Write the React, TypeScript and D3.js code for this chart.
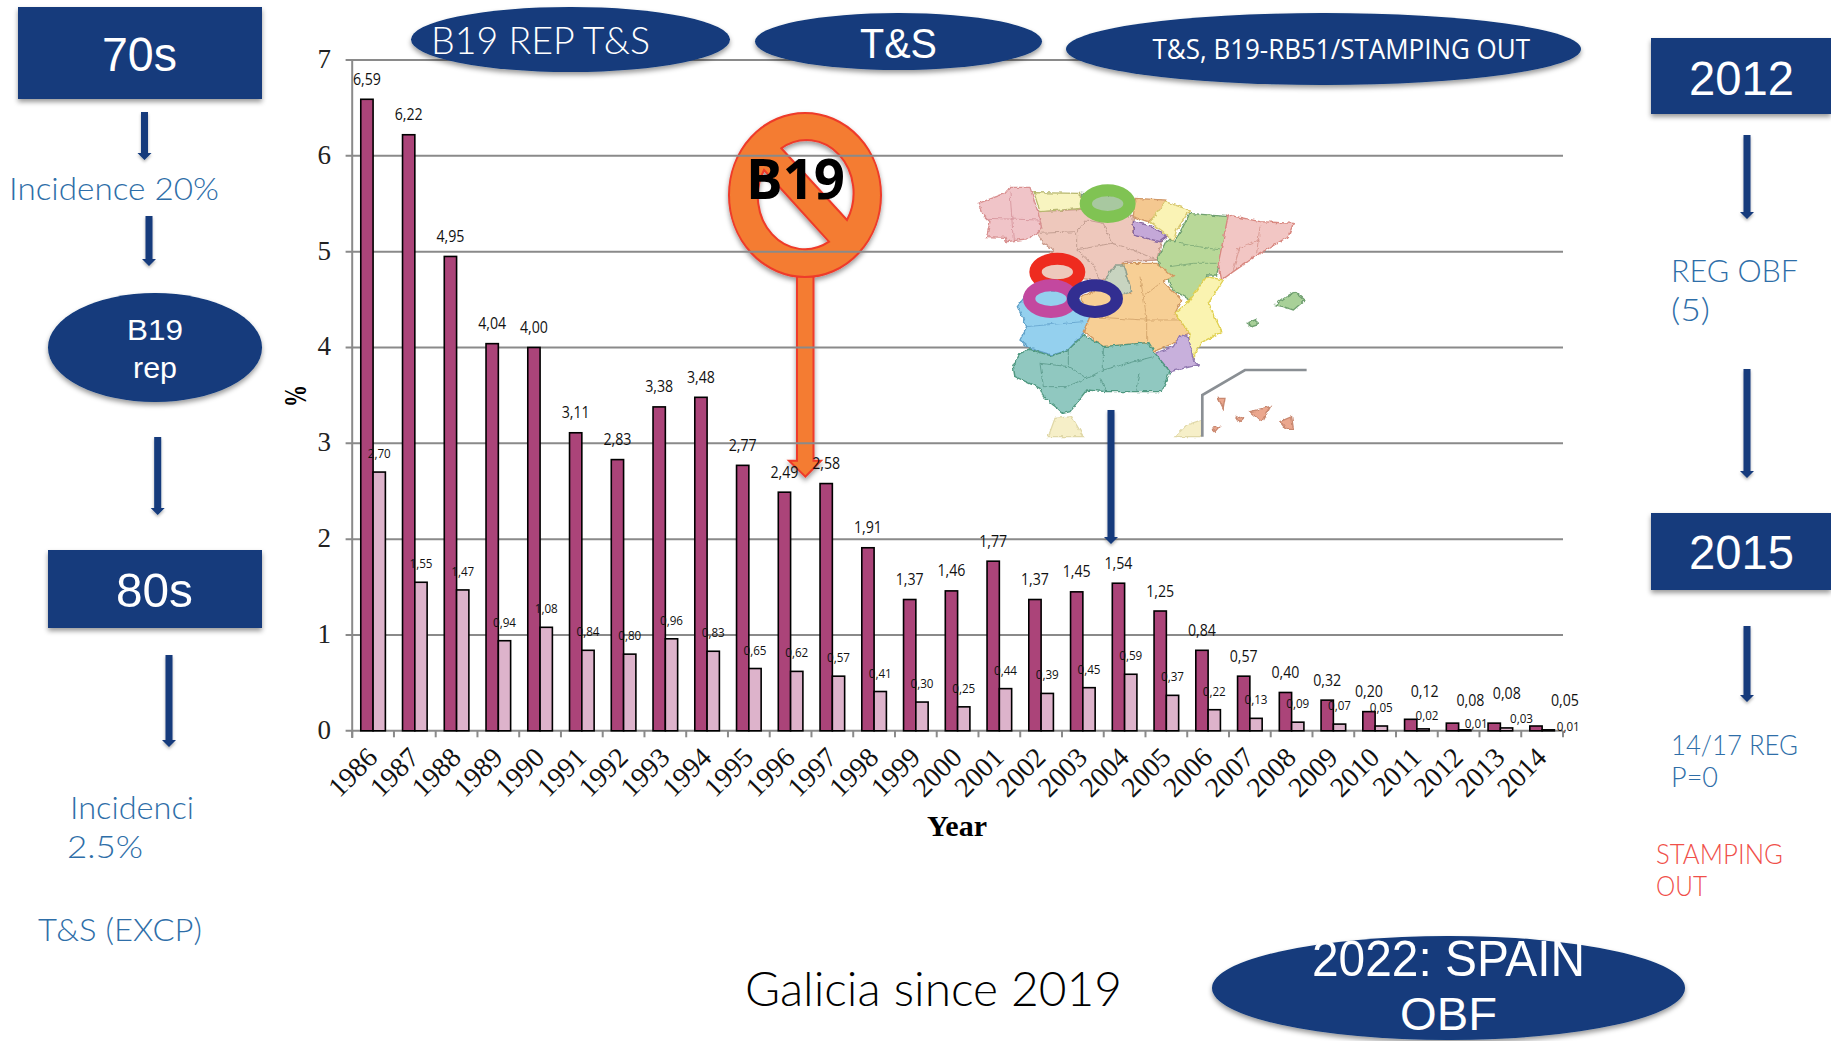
import React from "react";
import * as d3 from "d3";

const years = ["1986","1987","1988","1989","1990","1991","1992","1993","1994","1995","1996","1997","1998","1999","2000","2001","2002","2003","2004","2005","2006","2007","2008","2009","2010","2011","2012","2013","2014"];
const seriesDark = [6.59,6.22,4.95,4.04,4.00,3.11,2.83,3.38,3.48,2.77,2.49,2.58,1.91,1.37,1.46,1.77,1.37,1.45,1.54,1.25,0.84,0.57,0.40,0.32,0.20,0.12,0.08,0.08,0.05];
const seriesLight = [2.70,1.55,1.47,0.94,1.08,0.84,0.80,0.96,0.83,0.65,0.62,0.57,0.41,0.30,0.25,0.44,0.39,0.45,0.59,0.37,0.22,0.13,0.09,0.07,0.05,0.02,0.01,0.03,0.01];
const yTicks = [0,1,2,3,4,5,6,7];

const darkNudge: Record<string,[number,number]> = { "2011":[14,-28], "2012":[18,-23], "2013":[12.6,-30], "2014":[29,-26] };
const lightNudge: Record<string,[number,number]> = { "2011":[4,-14], "2012":[11.5,-7], "2013":[15,-10], "2014":[20,-4] };

const NAVY = "#123A7C";
const BLUE = "#2E6EA8";
const RED = "#F0504A";
const THIN = "Lato, 'Open Sans', sans-serif";
const SANS = "'Liberation Sans', Arial, sans-serif";
const NARROW = "'Liberation Sans Narrow', 'Liberation Sans', sans-serif";
const LABEL = "'Open Sans', sans-serif";
const SERIF = "'Liberation Serif', 'Times New Roman', serif";

const x = d3.scaleBand<string>().domain(years).range([352.2, 1563]).padding(0);
const y = d3.scaleLinear().domain([0, 7]).range([730.8, 60]);
const barW = 12.3;
const fmt = (v: number) => v.toFixed(2).replace(".", ",");

function DownArrow({ cx, y0, y1, shaft = 7, head = 14, headLen = 7 }: any) {
  const p = [[cx-shaft/2,y0],[cx+shaft/2,y0],[cx+shaft/2,y1-headLen],[cx+head/2,y1-headLen],[cx,y1],[cx-head/2,y1-headLen],[cx-shaft/2,y1-headLen]];
  return <polygon points={p.map(d=>d.join(",")).join(" ")} fill={NAVY} filter="url(#shadowS)" />;
}

function Fit({ x0, x1, base, size, fill, family = THIN, weight = 300, children }: any) {
  return <text x={x0} y={base} fontFamily={family} fontWeight={weight} fontSize={size} fill={fill}
    textLength={x1-x0} lengthAdjust="spacingAndGlyphs">{children}</text>;
}

const regions: [string, string, string][] = [
  ["#EEC8BC","#C89A8A","290,185 425,178 470,190 580,200 578,250 665,275 650,330 555,335 545,350 510,375 480,395 430,385 400,395 310,390 300,350 340,300 310,280 290,250 305,235"],
  ["#F0C4C8","#D89090","115,160 195,130 210,112 270,112 295,190 305,235 270,265 200,275 195,262 140,260 150,215 125,190"],
  ["#F8F4C0","#B8B870","282,128 420,130 425,175 300,185"],
  ["#A8C8A0","#80A080","425,130 560,140 580,175 500,190 425,175"],
  ["#F4C890","#D09868","585,145 680,150 650,195 625,215 580,200"],
  ["#FAF3B5","#D8C870","675,155 750,180 710,240 700,275 670,245 630,215"],
  ["#C4A8D8","#8868A0","580,215 640,230 680,260 660,275 580,255"],
  ["#B8D898","#70A070","750,190 865,200 840,340 830,375 800,375 790,420 750,450 700,420 650,330 680,270 705,275"],
  ["#F2C6C4","#D88880","865,195 960,215 1060,220 1045,260 960,310 880,365 845,390 835,340"],
  ["#94D0EE","#60A0C8","232,470 270,420 400,420 450,500 430,550 385,600 335,615 270,595 240,570 260,530"],
  ["#F7CF95","#D09860","550,340 650,340 700,380 670,395 725,450 705,490 750,550 690,585 640,605 620,578 490,590 430,545 450,500 420,440 500,410 575,430"],
  ["#C8D4C0","#90A090","525,345 552,345 575,425 540,437 495,390"],
  ["#FAF3B0","#E0D050","800,380 850,390 805,460 845,545 780,580 760,625 745,590 750,550 705,490 750,450"],
  ["#C8B0DC","#9078B0","720,555 745,560 760,630 775,645 690,665 645,610 700,590"],
  ["#90C8C0","#509880","240,610 270,598 335,618 385,600 430,555 490,590 625,578 645,610 690,665 665,725 590,725 500,725 440,720 390,785 370,790 310,740 300,715 225,680 220,650"],
  ["#A8D098","#70A070","1005,465 1040,440 1065,425 1095,450 1060,480 1030,470"],
  ["#A8D098","#70A070","920,520 950,508 952,525 935,530"],
  ["#EBA78E","#C88870","930,785 990,770 965,815"],
  ["#EBA78E","#C88870","1020,815 1055,800 1060,835 1035,835"],
  ["#EBA78E","#C88870","835,745 855,745 850,775"],
  ["#EBA78E","#C88870","890,800 910,805 900,815"],
  ["#EBA78E","#C88870","815,835 838,830 825,845"],
  ["#F6EFC8","#E0D8A8","325,860 345,805 395,800 430,860"],
  ["#F6EFC8","#E0D8A8","705,860 740,825 785,810 785,860"],
];

const provinceLines: [string, string][] = [
  ["#B08C80","410,245 440,210 490,220 515,280"],
  ["#B08C80","300,250 410,245 410,300 460,345 480,395"],
  ["#B08C80","515,280 580,300 650,330"],
  ["#B08C80","410,300 515,280"],
  ["#4F8F80","385,600 385,650 300,640 310,710"],
  ["#4F8F80","385,650 440,685 380,710 310,710"],
  ["#4F8F80","490,590 490,660 440,685"],
  ["#4F8F80","490,660 640,620"],
  ["#4F8F80","590,725 600,670"],
  ["#4F8F80","500,725 480,685"],
  ["#6F9F70","715,280 840,300"],
  ["#6F9F70","690,350 760,340 830,340"],
  ["#C89860","610,440 620,500 620,578"],
  ["#C89860","450,500 610,510 720,510"],
  ["#C89860","600,380 610,440 660,400"],
  ["#D08880","900,290 880,360"],
  ["#D08880","960,230 950,310"],
  ["#D08880","890,300 960,270"],
  ["#5C9CC8","260,530 430,515"],
  ["#D08890","210,125 220,270"],
  ["#D08890","140,205 300,210"],
];

const rings: [string, number, number][] = [
  ["#80C353",503,161],
  ["#EE2B1F",352,366],
  ["#C3489F",333,446],
  ["#322E91",465,446],
];

function ringPath(cx: number, cy: number) {
  const e = (rx: number, ry: number) => `M${cx-rx},${cy}a${rx},${ry} 0 1,0 ${2*rx},0a${rx},${ry} 0 1,0 ${-2*rx},0Z`;
  return e(84,58) + e(47,22);
}

export default function App() {
  return (
    <svg width={1831} height={1041} style={{ position: "absolute", left: 0, top: 0, background: "#fff" }}>
      <defs>
        <filter id="shadow" x="-10%" y="-20%" width="120%" height="150%">
          <feDropShadow dx="0" dy="3" stdDeviation="2.5" floodColor="#000" floodOpacity="0.4" />
        </filter>
        <filter id="shadowS" x="-100%" y="-10%" width="300%" height="120%">
          <feDropShadow dx="0" dy="2" stdDeviation="1.5" floodColor="#000" floodOpacity="0.3" />
        </filter>
        <filter id="soft" x="-5%" y="-5%" width="110%" height="110%">
          <feTurbulence type="fractalNoise" baseFrequency="0.07" numOctaves="2" seed="4" result="n" />
          <feDisplacementMap in="SourceGraphic" in2="n" scale="12" xChannelSelector="R" yChannelSelector="G" result="d" />
          <feGaussianBlur in="d" stdDeviation="1" />
        </filter>
      </defs>

      {/* No-B19 sign sits behind the chart */}
      <g filter="url(#shadow)">
        <path fillRule="evenodd" fill="#F47B30" stroke="#EE3A2A" strokeWidth={2}
          d="M797,275 L797,460.7 L789,460.7 L805.4,476.7 L821,460.7 L813.5,460.7 L813.5,275 Z" />
        <path fillRule="evenodd" fill="#F47B30" stroke="#EE3A2A" strokeWidth={2}
          d="M729,195a76,82 0 1,0 152,0a76,82 0 1,0 -152,0Z M781.3,148.3 L847,220 A47,53 0 0 0 781.3,148.3 Z M764,170 L829,241.7 A47,53 0 0 1 764,170 Z" />
      </g>

      {/* grid and axes */}
      {yTicks.map(t => (
        <g key={t}>
          <line x1={345.6} x2={1563} y1={y(t)} y2={y(t)} stroke="#8a8a8a" strokeWidth={2} />
          <text x={331} y={y(t)+8} textAnchor="end" fontFamily={SERIF} fontSize={27} fill="#222">{t}</text>
        </g>
      ))}
      <line x1={352.2} x2={352.2} y1={60} y2={738} stroke="#8a8a8a" strokeWidth={2} />
      {[...years, "end"].map((yr, i) => {
        const tx = 352.2 + i * x.bandwidth();
        return <line key={yr} x1={tx} x2={tx} y1={y(0)} y2={y(0)+6.5} stroke="#8a8a8a" strokeWidth={2} />;
      })}

      {/* bars */}
      {years.map((yr, i) => {
        const c = x(yr)! + x.bandwidth()/2;
        return (
          <g key={yr}>
            <rect x={c-barW} y={y(seriesDark[i])} width={barW} height={y(0)-y(seriesDark[i])} fill="#AB4479" stroke="#000" strokeWidth={1.6} />
            <rect x={c} y={y(seriesLight[i])} width={barW} height={y(0)-y(seriesLight[i])} fill="#DDB3CB" stroke="#000" strokeWidth={1.6} />
          </g>
        );
      })}

      {/* B19 text */}
      <Fit x0={746} x1={845} base={199} size={56} fill="#000" family="'Open Sans', sans-serif" weight={700}>B19</Fit>

      {/* map */}
      <g transform="translate(940,150) scale(0.3333)">
        <g filter="url(#soft)">
          {regions.map(([f, s, p], i) => <polygon key={i} points={p} fill={f} stroke={s} strokeWidth={4} />)}
          {provinceLines.map(([s, p], i) => <polyline key={i} points={p} fill="none" stroke={s} strokeWidth={3} opacity={0.7} />)}
        </g>
        <polyline points="787,860 787,735 915,660 1100,660" fill="none" stroke="#8a8f94" strokeWidth={8} />
        {rings.map(([c, cx, cy]) => <path key={c} d={ringPath(cx, cy)} fill={c} fillRule="evenodd" />)}
      </g>

      {/* data labels */}
      {years.map((yr, i) => {
        const c = x(yr)! + x.bandwidth()/2;
        const [dx1, dy1] = darkNudge[yr] ?? [0, -20];
        const [dx2, dy2] = lightNudge[yr] ?? [0, -19];
        return (
          <g key={yr} fontFamily={LABEL} textAnchor="middle" fill="#111">
            <text x={c-barW/2+dx1} y={y(seriesDark[i])+dy1+5.5} fontSize={15.5} textLength={28} lengthAdjust="spacingAndGlyphs">{fmt(seriesDark[i])}</text>
            <text x={c+barW/2+dx2} y={y(seriesLight[i])+dy2+5} fontSize={13.5} textLength={23} lengthAdjust="spacingAndGlyphs">{fmt(seriesLight[i])}</text>
          </g>
        );
      })}

      {/* x labels */}
      {years.map(yr => {
        const c = x(yr)! + x.bandwidth()/2;
        return <text key={yr} transform={`translate(${c+6},${759}) rotate(-45)`} textAnchor="end" fontFamily={SERIF} fontSize={28} fill="#111">{yr}</text>;
      })}
      <text x={957} y={836} textAnchor="middle" fontFamily={SERIF} fontWeight={700} fontSize={30} fill="#000">Year</text>
      <text transform="translate(306,396) rotate(-90)" textAnchor="middle" fontFamily={SERIF} fontWeight={700} fontSize={31} textLength={22} lengthAdjust="spacingAndGlyphs" fill="#000">%</text>

      <DownArrow cx={1111} y0={410} y1={544} />

      {/* top ellipses */}
      <g filter="url(#shadow)" fill={NAVY}>
        <ellipse cx={570.5} cy={39.5} rx={159.5} ry={32.5} />
        <ellipse cx={898.5} cy={41.5} rx={143.5} ry={28.5} />
        <ellipse cx={1323.5} cy={49} rx={257.5} ry={36} />
      </g>
      <Fit x0={431} x1={650} base={54} size={38} fill="#fff">B19 REP T&amp;S</Fit>
      <Fit x0={860} x1={937} base={58} size={42} fill="#fff" family={NARROW} weight={400}>T&amp;S</Fit>
      <Fit x0={1152.5} x1={1530} base={59} size={27} fill="#fff" family="'Open Sans', sans-serif" weight={400}>T&amp;S, B19-RB51/STAMPING OUT</Fit>

      {/* left column */}
      <rect x={18} y={7} width={244} height={92} fill={NAVY} filter="url(#shadow)" />
      <Fit x0={102} x1={177} base={71} size={49} fill="#fff" family={SANS} weight={400}>70s</Fit>
      <DownArrow cx={144.5} y0={112} y1={160} />
      <Fit x0={9} x1={219} base={200} size={32} fill={BLUE}>Incidence 20%</Fit>
      <DownArrow cx={149} y0={216} y1={266} />
      <ellipse cx={155} cy={347.5} rx={107} ry={54.5} fill={NAVY} filter="url(#shadow)" />
      <Fit x0={127} x1={183} base={340} size={30} fill="#fff" family={SANS} weight={400}>B19</Fit>
      <Fit x0={133} x1={177} base={378} size={30} fill="#fff" family={SANS} weight={400}>rep</Fit>
      <DownArrow cx={157.7} y0={437} y1={515} />
      <rect x={48} y={550} width={214} height={78} fill={NAVY} filter="url(#shadow)" />
      <Fit x0={116} x1={193} base={607} size={49} fill="#fff" family={SANS} weight={400}>80s</Fit>
      <DownArrow cx={169} y0={655} y1={747} />
      <Fit x0={70} x1={194} base={819} size={32} fill={BLUE}>Incidenci</Fit>
      <Fit x0={67} x1={143} base={858} size={32} fill={BLUE}>2.5%</Fit>
      <Fit x0={38} x1={202} base={941} size={32} fill={BLUE}>T&amp;S (EXCP)</Fit>

      {/* right column */}
      <rect x={1651} y={38} width={180} height={76} fill={NAVY} filter="url(#shadow)" />
      <Fit x0={1689} x1={1794} base={95} size={48} fill="#fff" family={SANS} weight={400}>2012</Fit>
      <DownArrow cx={1747} y0={135} y1={219} />
      <Fit x0={1671} x1={1798} base={282} size={32} fill={BLUE}>REG OBF</Fit>
      <Fit x0={1671} x1={1710} base={321} size={32} fill={BLUE}>(5)</Fit>
      <DownArrow cx={1747} y0={369} y1={478} />
      <rect x={1651} y={513} width={180} height={77} fill={NAVY} filter="url(#shadow)" />
      <Fit x0={1689} x1={1794} base={569} size={48} fill="#fff" family={SANS} weight={400}>2015</Fit>
      <DownArrow cx={1747} y0={626} y1={702} />
      <Fit x0={1671} x1={1798} base={755} size={27} fill={BLUE}>14/17 REG</Fit>
      <Fit x0={1671} x1={1718} base={787} size={27} fill={BLUE}>P=0</Fit>
      <Fit x0={1656} x1={1783} base={864} size={27} fill={RED}>STAMPING</Fit>
      <Fit x0={1656} x1={1707} base={896} size={27} fill={RED}>OUT</Fit>

      {/* bottom */}
      <Fit x0={745} x1={1122} base={1006} size={47} fill="#000">Galicia since 2019</Fit>
      <ellipse cx={1448.5} cy={988} rx={236.5} ry={52} fill={NAVY} filter="url(#shadow)" />
      <Fit x0={1312} x1={1585} base={976} size={50} fill="#fff" family={SANS} weight={400}>2022: SPAIN</Fit>
      <Fit x0={1400} x1={1497} base={1030} size={46} fill="#fff" family={SANS} weight={400}>OBF</Fit>
    </svg>
  );
}
